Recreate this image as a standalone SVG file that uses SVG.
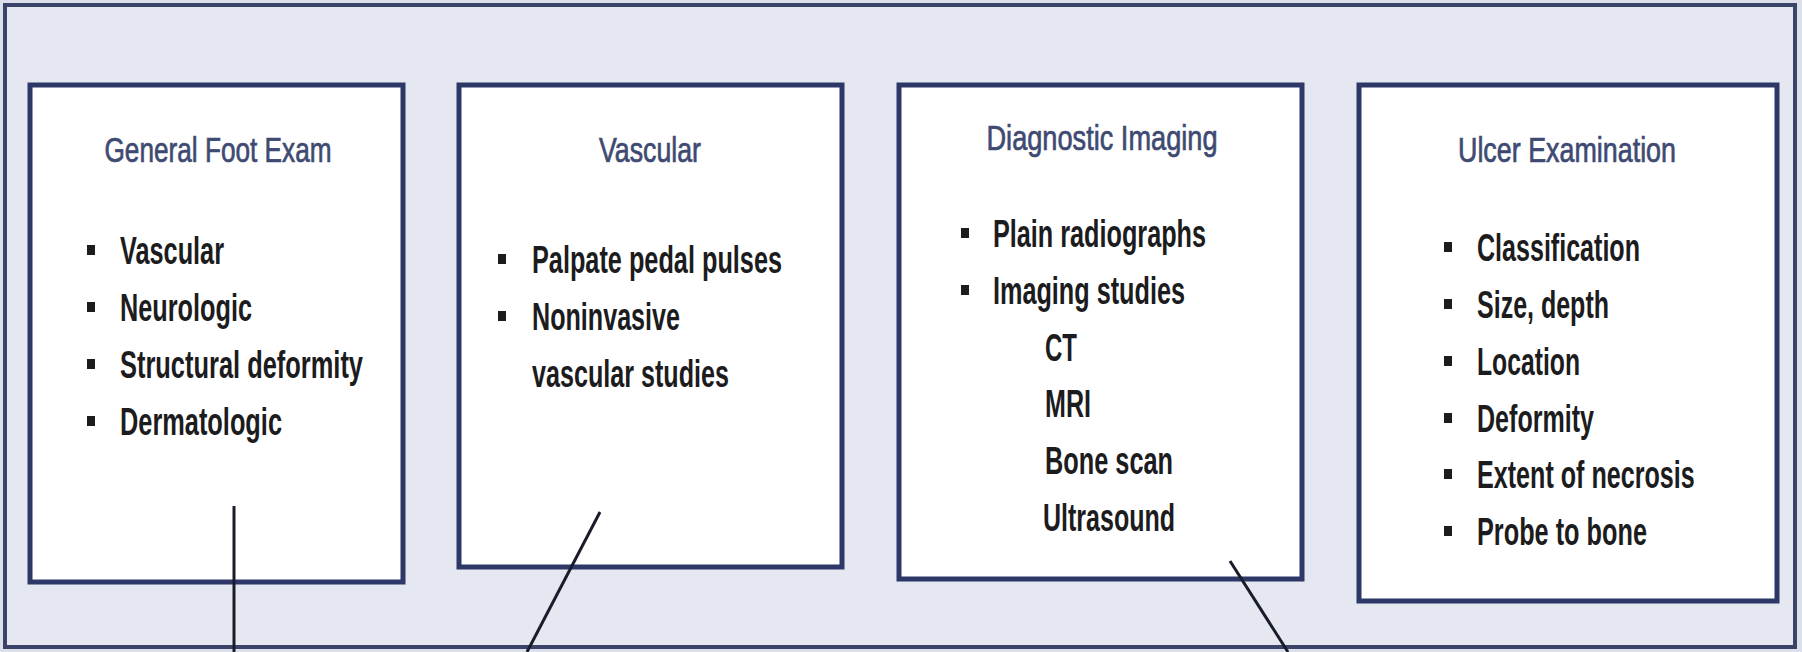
<svg xmlns="http://www.w3.org/2000/svg" width="1802" height="652" viewBox="0 0 1802 652">
  <style>
    .frame { fill: #e5e8f1; stroke: #3a4468; stroke-width: 4; }
    .box { fill: #ffffff; stroke: #2d3768; stroke-width: 5; }
    .title { font-family: "Liberation Sans", Arial, sans-serif; font-size: 35px; fill: #3e4a72; stroke: #3e4a72; stroke-width: 0.7; text-anchor: middle; }
    .item { font-family: "Liberation Sans", Arial, sans-serif; font-size: 38px; font-weight: bold; fill: #1c1c1e; }
    .bul { fill: #1c1c1e; }
    .conn { stroke: #1a1c2c; stroke-width: 3; fill: none; }
  </style>
  <rect x="0" y="0" width="1802" height="652" fill="#dde0ea"/>
  <rect class="frame" x="5" y="5" width="1790" height="642"/>

  <g id="node-general-foot-exam">
    <rect class="box" x="30" y="85" width="373" height="497"/>
    <text class="title" x="218" y="162" textLength="227" lengthAdjust="spacingAndGlyphs">General Foot Exam</text>
    <rect class="bul" x="87" y="245" width="8" height="10"/>
    <text class="item" x="120" y="264" textLength="104" lengthAdjust="spacingAndGlyphs">Vascular</text>
    <rect class="bul" x="87" y="302" width="8" height="10"/>
    <text class="item" x="120" y="321" textLength="132" lengthAdjust="spacingAndGlyphs">Neurologic</text>
    <rect class="bul" x="87" y="359" width="8" height="10"/>
    <text class="item" x="120" y="378" textLength="243" lengthAdjust="spacingAndGlyphs">Structural deformity</text>
    <rect class="bul" x="87" y="416" width="8" height="10"/>
    <text class="item" x="120" y="435" textLength="162" lengthAdjust="spacingAndGlyphs">Dermatologic</text>
  </g>

  <g id="node-vascular">
    <rect class="box" x="459" y="85" width="383" height="482"/>
    <text class="title" x="650" y="162" textLength="102" lengthAdjust="spacingAndGlyphs">Vascular</text>
    <rect class="bul" x="498" y="254" width="8" height="10"/>
    <text class="item" x="532" y="273" textLength="250" lengthAdjust="spacingAndGlyphs">Palpate pedal pulses</text>
    <rect class="bul" x="498" y="311" width="8" height="10"/>
    <text class="item" x="532" y="330" textLength="148" lengthAdjust="spacingAndGlyphs">Noninvasive</text>
    <text class="item" x="532" y="387" textLength="197" lengthAdjust="spacingAndGlyphs">vascular studies</text>
  </g>

  <g id="node-diagnostic-imaging">
    <rect class="box" x="899" y="85" width="403" height="494"/>
    <text class="title" x="1102" y="150" textLength="231" lengthAdjust="spacingAndGlyphs">Diagnostic Imaging</text>
    <rect class="bul" x="961" y="228" width="8" height="10"/>
    <text class="item" x="993" y="247" textLength="213" lengthAdjust="spacingAndGlyphs">Plain radiographs</text>
    <rect class="bul" x="961" y="285" width="8" height="10"/>
    <text class="item" x="993" y="304" textLength="192" lengthAdjust="spacingAndGlyphs">Imaging studies</text>
    <text class="item" x="1045" y="361" textLength="32" lengthAdjust="spacingAndGlyphs">CT</text>
    <text class="item" x="1045" y="417" textLength="46" lengthAdjust="spacingAndGlyphs">MRI</text>
    <text class="item" x="1045" y="474" textLength="128" lengthAdjust="spacingAndGlyphs">Bone scan</text>
    <text class="item" x="1043" y="531" textLength="132" lengthAdjust="spacingAndGlyphs">Ultrasound</text>
  </g>

  <g id="node-ulcer-examination">
    <rect class="box" x="1359" y="85" width="418" height="516"/>
    <text class="title" x="1567" y="162" textLength="218" lengthAdjust="spacingAndGlyphs">Ulcer Examination</text>
    <rect class="bul" x="1444" y="242" width="8" height="10"/>
    <text class="item" x="1477" y="261" textLength="163" lengthAdjust="spacingAndGlyphs">Classification</text>
    <rect class="bul" x="1444" y="299" width="8" height="10"/>
    <text class="item" x="1477" y="318" textLength="132" lengthAdjust="spacingAndGlyphs">Size, depth</text>
    <rect class="bul" x="1444" y="356" width="8" height="10"/>
    <text class="item" x="1477" y="375" textLength="103" lengthAdjust="spacingAndGlyphs">Location</text>
    <rect class="bul" x="1444" y="413" width="8" height="10"/>
    <text class="item" x="1477" y="432" textLength="117" lengthAdjust="spacingAndGlyphs">Deformity</text>
    <rect class="bul" x="1444" y="469" width="8" height="10"/>
    <text class="item" transform="translate(1477 488) scale(0.7 1)" x="0" y="0" textLength="311" lengthAdjust="spacingAndGlyphs">Extent of necrosis</text>
    <rect class="bul" x="1444" y="526" width="8" height="10"/>
    <text class="item" x="1477" y="545" textLength="170" lengthAdjust="spacingAndGlyphs">Probe to bone</text>
  </g>

  <g id="connectors">
    <line class="conn" x1="234" y1="506" x2="234" y2="652"/>
    <line class="conn" x1="600" y1="512" x2="527" y2="652"/>
    <line class="conn" x1="1230" y1="561" x2="1288" y2="652"/>
  </g>
</svg>
